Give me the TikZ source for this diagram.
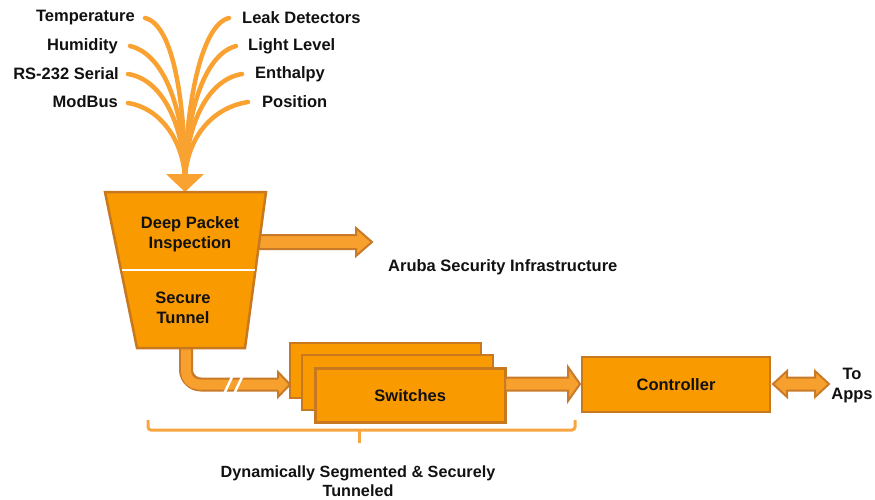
\documentclass[tikz,border=0pt]{standalone}
\usepackage{fontspec}
\setmainfont{Liberation Sans}
\definecolor{boxfill}{HTML}{F99A00}
\definecolor{boxline}{HTML}{C8781E}
\definecolor{arrfill}{HTML}{F7A02E}
\definecolor{arrline}{HTML}{C97A28}
\definecolor{curvecol}{HTML}{F9A231}
\definecolor{bracecol}{HTML}{F7A540}
\definecolor{txt}{HTML}{111111}
\begin{document}
\begin{tikzpicture}[x=1pt,y=-1pt,
  lbl/.style={font=\bfseries\fontsize{16.5}{20}\selectfont, text=txt, inner sep=0pt},
  ctr/.style={lbl, align=center},
  fan/.style={draw=curvecol, line width=4.5pt, line cap=round},
  blockbox/.style={draw=boxline, fill=boxfill, line width=2.5pt},
  blockarr/.style={draw=arrline, fill=arrfill, line width=2pt, line join=miter},
  bracestyle/.style={draw=bracecol, line width=3pt, rounded corners=3pt}
]
\useasboundingbox (0,0) rectangle (875,499);

% labels
\node[lbl, anchor=east] (temp) at (135,18) {Temperature};
\node[lbl, anchor=east] (hum) at (118,46) {Humidity};
\node[lbl, anchor=east] (rs) at (119,74) {RS-232 Serial};
\node[lbl, anchor=east] (mod) at (118,102) {ModBus};
\node[lbl, anchor=west] (leak) at (242,18) {Leak Detectors};
\node[lbl, anchor=west] (light) at (248,46) {Light Level};
\node[lbl, anchor=west] (enth) at (255,74) {Enthalpy};
\node[lbl, anchor=west] (pos) at (262,102) {Position};

% fan curves
\coordinate (fanend) at (185,178);
\draw[fan] (145,18) .. controls (175,25) and (185,110) .. (fanend);
\draw[fan] (130,46) .. controls (168,55) and (185,120) .. (fanend);
\draw[fan] (128,74) .. controls (165,80) and (184,130) .. (fanend);
\draw[fan] (128,103) .. controls (160,108) and (183,140) .. (fanend);
\draw[fan] (229,18) .. controls (200,25) and (186,110) .. (fanend);
\draw[fan] (236,46) .. controls (202,55) and (186,120) .. (fanend);
\draw[fan] (242,74) .. controls (205,80) and (186,130) .. (fanend);
\draw[fan] (248,102) .. controls (210,108) and (187,140) .. (fanend);
\fill[curvecol] (166,174) -- (204,174) -- (185,192) -- cycle;

% bent pipe from trapezoid to switches
\coordinate (pipestart) at (186,340);
\coordinate (pipeend) at (279,384.5);
\draw[draw=arrline, line width=14pt, rounded corners=15pt] (pipestart) -- (186,384.5) -- (pipeend);
\draw[draw=arrfill, line width=10pt, rounded corners=13pt] (pipestart) -- (186,384.5) -- (pipeend);
\fill[arrfill] (278,378) -- (278,372) -- (290,384.5) -- (278,397) -- (278,391) -- cycle;
\draw[draw=arrline, line width=2pt, line join=miter] (278,378.5) -- (278,372) -- (290,384.5) -- (278,397) -- (278,390.5);
\draw[white, line width=2.5pt] (224,394) -- (233,375);
\draw[white, line width=2.5pt] (234,394) -- (243,375);

% arrow to Aruba
\draw[blockarr] (250,235) -- (356,235) -- (356,228) -- (372,242) -- (356,256) -- (356,249) -- (250,249) -- cycle;

% trapezoid
\draw[blockbox, line join=miter] (105,192) -- (266,192) -- (245,348) -- (137,348) -- cycle;
\draw[white, line width=1.2pt] (122,270) -- (255,270);
\node[ctr] (dpi) at (190,234) {Deep Packet\\Inspection};
\node[ctr] (sec) at (183,308) {Secure\\Tunnel};

\node[lbl, anchor=west] (aruba) at (388,267) {Aruba Security Infrastructure};

% switches
\draw[blockbox] (290,343) rectangle (481,398);
\draw[blockbox] (302,355) rectangle (493,410);
\node[blockbox, minimum width=190pt, minimum height=54pt, anchor=north west, inner sep=0pt] (sw) at (314,367) {};
\node[lbl] at (sw.center) {Switches};

% controller
\node[blockbox, minimum width=188pt, minimum height=55pt, inner sep=0pt] (ctl) at (676,384.5) {};
\node[lbl] at (ctl.center) {Controller};

% arrow switches -> controller
\draw[blockarr] (505,377.5) -- (568,377.5) -- (568,367) -- (580,384) -- (568,401) -- (568,390.5) -- (505,390.5) -- cycle;

% double arrow to apps
\draw[blockarr] (773,384) -- (787,371) -- (787,377.5) -- (815,377.5) -- (815,371) -- (829,384) -- (815,397) -- (815,390.5) -- (787,390.5) -- (787,397) -- cycle;
\node[ctr] (apps) at (852,386) {To\\Apps};

% brace
\draw[bracestyle] (148,420) -- (148,430) -- (575,430) -- (575,420);
\draw[draw=bracecol, line width=3pt] (359,430) -- (359,443);
\node[ctr, font=\bfseries\fontsize{16.2}{19}\selectfont] (dyn) at (358,481) {Dynamically Segmented \& Securely\\Tunneled};
\end{tikzpicture}
\end{document}
